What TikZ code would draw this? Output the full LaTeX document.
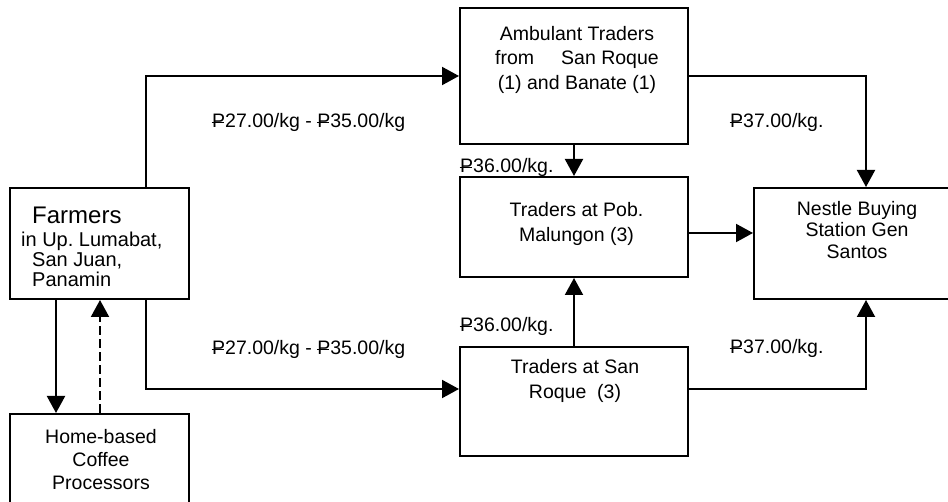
\documentclass[tikz,border=0pt]{standalone}
\usepackage{fontspec}
\setmainfont{Liberation Sans}
\usetikzlibrary{arrows.meta}

% peso sign: a P crossed by a low bar
\newcommand\pesosign{\leavevmode\rlap{\kern-0.03em\rule[0.24em]{0.62em}{0.075em}}P}

\tikzset{
  box/.style={draw, line width=2pt, inner sep=0pt, rectangle},
  arr/.style={line width=2pt, -{Triangle[length=17pt,width=18pt]}},
  boxtext/.style={inner sep=0pt, align=center, anchor=north},
  price/.style={inner sep=0pt, anchor=base west, font=\fontsize{19.5}{24}\selectfont},
}

\begin{document}
\begin{tikzpicture}[x=1pt,y=-1pt]
\clip (0,0) rectangle (948,502);
\fill[white] (0,0) rectangle (948,502);

% boxes
\node[box, minimum width=179pt, minimum height=111pt] (farmers)  at (99.5,243.5) {};
\node[box, minimum width=179pt, minimum height=126pt] (home)     at (99.5,477) {};
\node[box, minimum width=228pt, minimum height=136pt] (ambulant) at (574,76) {};
\node[box, minimum width=228pt, minimum height=100pt] (pob)      at (574,227) {};
\node[box, minimum width=228pt, minimum height=109pt] (sanroque) at (574,401.5) {};
\node[box, minimum width=216pt, minimum height=111pt] (nestle)   at (862,243.5) {};

% box texts
\node[inner sep=0pt, anchor=north west, align=left, font=\fontsize{20}{20}\selectfont] (farmerstxt) at (32,207)
  {{\fontsize{24}{24}\selectfont Farmers}\\[3pt]\hspace*{-11pt}in Up.\ Lumabat,\\San Juan,\\Panamin};
\node[boxtext, font=\fontsize{19.5}{23}\selectfont] (hometxt) at (101,429)
  {Home-based\\Coffee\\Processors};
\node[boxtext, font=\fontsize{19.5}{24.5}\selectfont] (ambtxt) at (577,26)
  {Ambulant Traders\\from\hspace{27pt}San Roque\\(1) and Banate (1)};
\node[boxtext, font=\fontsize{19.5}{25}\selectfont] (pobtxt) at (576.5,202)
  {Traders at Pob.\\Malungon (3)};
\node[boxtext, font=\fontsize{19.5}{25}\selectfont] (sanroquetxt) at (575,359)
  {Traders at San\\Roque~~(3)};
\node[boxtext, font=\fontsize{19.5}{21.5}\selectfont] (nestletxt) at (857,201)
  {Nestle Buying\\Station Gen\\Santos};

% routing helpers
\coordinate (fx) at (146,0);
\coordinate (nx) at (866,0);
\coordinate (dx1) at (56,0);
\coordinate (dx2) at (100,0);
\coordinate (midy) at (0,233);
\coordinate (lowy) at (0,389);

% connectors
\draw[arr] (farmers.north -| fx) |- (ambulant.west);
\draw[arr] (farmers.south -| fx) |- (sanroque.west |- lowy);
\draw[arr] (ambulant.east) -| (nestle.north -| nx);
\draw[arr] (ambulant.south) -- (pob.north);
\draw[arr] (sanroque.north) -- (pob.south);
\draw[arr] (pob.east |- midy) -- (nestle.west |- midy);
\draw[arr] (sanroque.east |- lowy) -| (nestle.south -| nx);
\draw[arr] (farmers.south -| dx1) -- (home.north -| dx1);
\draw[arr, dash pattern=on 9pt off 4pt] (home.north -| dx2) -- (farmers.south -| dx2);

% prices
\node[price] (p1) at (212,128) {\pesosign27.00/kg - \pesosign35.00/kg};
\node[price] (p2) at (212,355) {\pesosign27.00/kg - \pesosign35.00/kg};
\node[price] (p3) at (460,173) {\pesosign36.00/kg.};
\node[price] (p4) at (460,332) {\pesosign36.00/kg.};
\node[price] (p5) at (730,128) {\pesosign37.00/kg.};
\node[price] (p6) at (730,354) {\pesosign37.00/kg.};
\end{tikzpicture}
\end{document}
